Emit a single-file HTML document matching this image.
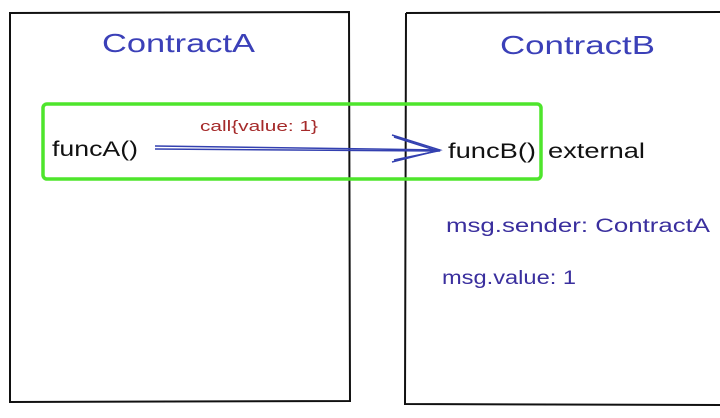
<!DOCTYPE html>
<html><head><meta charset="utf-8"><style>
html,body{margin:0;padding:0;background:#fff;width:720px;height:418px;overflow:hidden}
svg{display:block}
text{font-family:"Liberation Sans",sans-serif}
</style></head><body>
<svg width="720" height="418" viewBox="0 0 720 418">
<g fill="none" stroke="#111" stroke-width="2">
<path d="M10 13 L349 12 L350 401 L10 402 Z"/>
<path d="M406 13 L722 12 M406 13 L405 404 L722 405"/>
</g>
<rect x="43" y="104" width="498" height="75" rx="4" fill="none" stroke="#4ee52c" stroke-width="3.5"/>
<g stroke="#3340b0" stroke-width="1.5" fill="none">
<path d="M155 146 L440 150"/>
<path d="M155 149 L440 151"/>
<path d="M392 135 L440 150 L392 162"/>
<path d="M394 137 L438 151 L394 160"/>
</g>
<text x="102" y="52" textLength="153" lengthAdjust="spacingAndGlyphs" font-size="26" fill="#3b40b8">ContractA</text>
<text x="500" y="54" textLength="155" lengthAdjust="spacingAndGlyphs" font-size="26" fill="#3b40b8">ContractB</text>
<text x="52" y="156" textLength="86" lengthAdjust="spacingAndGlyphs" font-size="21" fill="#111">funcA()</text>
<text x="448" y="158" textLength="88" lengthAdjust="spacingAndGlyphs" font-size="21" fill="#111">funcB()</text>
<text x="548" y="158" textLength="97" lengthAdjust="spacingAndGlyphs" font-size="21" fill="#111">external</text>
<text x="200" y="131" textLength="118" lengthAdjust="spacingAndGlyphs" font-size="15" fill="#a52a2a">call{value: 1}</text>
<text x="446" y="232" textLength="264" lengthAdjust="spacingAndGlyphs" font-size="19" fill="#3a2f9e">msg.sender: ContractA</text>
<text x="442" y="284" textLength="134" lengthAdjust="spacingAndGlyphs" font-size="19" fill="#3a2f9e">msg.value: 1</text>
</svg>
</body></html>
